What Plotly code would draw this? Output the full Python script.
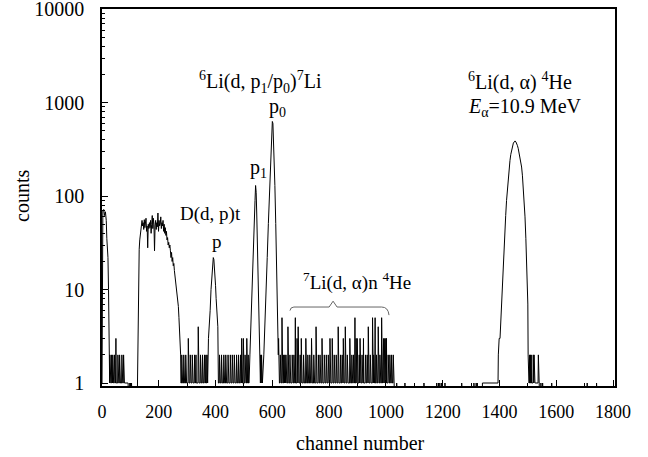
import numpy as np
import plotly.graph_objects as go

# ---------------- data ----------------
# peak profiles: channel / counts
peak0_ch = [0, 1, 3, 6, 9, 12, 15, 17, 19, 21, 23, 25]
peak0_cnt = [1, 60, 70, 72, 62, 68, 55, 35, 30, 22, 10, 1]

bump_ch = [125, 127, 129, 131, 133, 135, 137, 139, 141, 143, 145, 147, 149, 151, 153, 155,
           157, 159, 161, 163, 165, 167, 169, 171, 173, 175, 177, 179, 181, 183, 185, 187,
           189, 191, 193, 195, 197, 199, 201, 203, 205, 207, 209, 211, 213, 215, 217, 219,
           221, 223, 225, 227, 229, 231, 233, 235, 237, 239, 241, 243, 245, 247, 249, 251,
           253, 255, 257, 259, 261, 263, 265, 267, 269, 271, 273, 275, 277, 278]
bump_cnt = [1, 6, 19, 27, 34, 40, 47, 50, 55, 48, 52, 44, 56, 46, 50, 58,
            42, 48, 28, 50, 45, 52, 46, 55, 40, 50, 62, 45, 58, 50, 26, 48,
            55, 44, 52, 47, 66, 42, 55, 48, 50, 60, 45, 52, 48, 55, 42, 50,
            40, 46, 38, 42, 34, 36, 30, 32, 28, 30, 26, 22, 25, 20, 22, 18,
            19, 16, 14, 13, 11, 11, 9, 8, 6.6, 5, 4, 3, 2, 1]

dpt_ch = [372, 375, 378, 381, 384, 387, 390, 392, 394, 396, 398, 400, 402, 404, 406, 408, 410]
dpt_cnt = [1, 3, 4, 6, 10, 14, 19, 22, 21, 18, 15, 11, 8, 6, 4, 4, 1]

p1_ch = [518, 521, 524, 527, 530, 533, 536, 539, 541, 543, 545, 547, 549, 551, 553, 555, 557]
p1_cnt = [1, 2, 4, 10, 20, 34, 60, 90, 130, 110, 66, 35, 19, 9, 5, 3, 1]

p0_ch = [565, 570, 574, 578, 582, 586, 590, 593, 595, 598, 600, 602, 604, 607, 609, 612,
         614, 617, 619, 621]
p0_cnt = [1, 2, 4, 9, 22, 51, 110, 190, 263, 450, 630, 600, 430, 263, 130, 51,
          20, 6, 3, 2]

alpha_ch = [1396, 1399, 1402, 1405, 1408, 1410, 1413, 1416, 1419, 1422, 1425, 1428, 1431,
            1434, 1437, 1440, 1443, 1446, 1449, 1452, 1455, 1458, 1460, 1463, 1466, 1469,
            1472, 1475, 1478, 1481, 1484, 1487, 1490, 1493, 1496, 1498, 1500, 1501]
alpha_cnt = [2, 3, 3, 5, 8, 11, 16, 26, 43, 62, 90, 120, 155,
             195, 240, 280, 310, 345, 370, 380, 390, 380, 370, 350, 325, 295,
             265, 235, 205, 165, 126, 90, 60, 35, 20, 12, 7, 2]

# background noise: regions sitting at 1 count, and spikes above it
baseline_regions = [(25, 92), (278, 372), (410, 518), (557, 565), (622, 1028),
                    (1340, 1396), (1501, 1540)]
spike_ch = [28, 34, 38, 44, 49, 56, 62, 70, 76,
            281, 288, 295, 304, 311, 318, 326, 331, 339, 347, 354, 361, 366, 370,
            414, 421, 429, 436, 444, 452, 459, 466, 474, 481, 488, 492, 498, 504, 510, 515,
            559, 562,
            622, 624, 628, 634, 640, 644, 648, 655, 662, 670, 676, 681, 687, 691, 698, 702,
            710, 718, 725, 732, 738, 746, 754, 762, 768, 775, 783, 790, 797, 803, 811, 818,
            825, 832, 840, 846, 850, 857, 864, 873, 880, 886, 891, 895, 897, 899, 906, 909,
            916, 921, 928, 934, 938, 945, 953, 957, 962, 967, 973, 979, 985, 990, 992, 994,
            996, 998, 1000, 1002, 1008, 1014, 1020, 1026,
            1503, 1506, 1509, 1512, 1519, 1522, 1537]
spike_cnt = [2, 2, 2, 2, 3, 2, 2, 2, 2,
             2, 2, 2, 3, 2, 2, 2, 2, 4, 2, 2, 2, 2, 2,
             2, 2, 2, 2, 2, 2, 2, 2, 2, 2, 2, 3, 3, 2, 3, 2,
             2, 2,
             3, 3, 2, 5, 2, 2, 2, 4, 2, 2, 2, 5, 3, 4, 2, 3,
             2, 3, 2, 2, 3, 2, 4, 2, 2, 3, 2, 2, 2, 3, 3, 2,
             2, 4, 2, 2, 3, 4, 2, 3, 2, 2, 5, 3, 3, 3, 2, 3,
             2, 3, 2, 2, 4, 2, 5, 2, 5, 2, 4, 2, 5, 3, 3, 3,
             3, 3, 3, 3, 2, 2, 2, 2,
             2, 2, 2, 2, 2, 2, 2]
# isolated single counts in otherwise empty channels
single_ch = [98, 104, 1038, 1067, 1134, 1179, 1185, 1190, 1196, 1208, 1267, 1310, 1318,
             1322, 1546, 1552, 1584, 1709, 1742]

x_tick_vals = [0, 200, 400, 600, 800, 1000, 1200, 1400, 1600, 1800]
y_tick_vals = [1, 10, 100, 1000, 10000]
y_tick_text = ["1", "10", "100", "1000", "10000"]

# ---------------- build the spectrum line ----------------
n_ch = 1801
counts = np.zeros(n_ch)
for a, b in baseline_regions:
    counts[a:b + 1] = 1
for c in single_ch:
    counts[c] = 1
for c, v in zip(spike_ch, spike_cnt):
    counts[c] = v

profiles = [(peak0_ch, peak0_cnt), (bump_ch, bump_cnt), (dpt_ch, dpt_cnt),
            (p1_ch, p1_cnt), (p0_ch, p0_cnt), (alpha_ch, alpha_cnt)]
keep = np.ones(n_ch, bool)
for ch, _ in profiles:
    keep[ch[0]:ch[-1] + 1] = False

xs = np.concatenate([np.arange(n_ch)[keep]] + [np.array(ch, float) for ch, _ in profiles])
ys = np.concatenate([counts[keep]] + [np.array(cn, float) for _, cn in profiles])
order = np.argsort(xs, kind="stable")
xs, ys = xs[order], ys[order]
ys_plot = np.where(ys > 0, ys, 0.3)   # empty channels fall below the axis

FONT = "Liberation Serif, Times New Roman, serif"

# plot-area geometry (pixels) used to place the free texts
L, R, T, B = 102, 615, 9, 386


def px(xp):
    return (xp - L) / (R - L)


def py(yp):
    return (B - yp) / (B - T)


fig = go.Figure(go.Scatter(x=xs, y=ys_plot, mode="lines",
                           line=dict(color="black", width=1), hoverinfo="skip"))

fig.update_layout(
    width=648, height=457,
    margin=dict(l=L, r=648 - R, t=T, b=457 - B, autoexpand=False),
    paper_bgcolor="white", plot_bgcolor="white",
    showlegend=False,
    font=dict(family=FONT, size=19, color="black"),
)
fig.update_xaxes(
    range=[0, 1807], tickvals=x_tick_vals, ticks="inside", ticklen=6, tickwidth=1,
    tickcolor="black", showline=True, linecolor="black", linewidth=1.5, mirror=True,
    showgrid=False, zeroline=False, ticklabelstandoff=9, automargin=False,
    ticklabeloverflow="allow",
    tickfont=dict(family=FONT, size=18),
    minor=dict(tickvals=list(range(100, 1800, 200)), ticks="inside", ticklen=3,
               tickcolor="black", tickwidth=1, showgrid=False),
)
fig.update_yaxes(
    type="log", range=[-0.032, 4.003], tickvals=y_tick_vals, ticktext=y_tick_text,
    ticks="inside", ticklen=6, tickwidth=1, tickcolor="black", showline=True,
    linecolor="black", linewidth=1.5, mirror=True, showgrid=False, zeroline=False,
    ticklabelstandoff=12, automargin=False, ticklabeloverflow="allow",
    tickfont=dict(family=FONT, size=20),
    minor=dict(tickvals=[m * 10 ** k for k in range(4) for m in range(2, 10)],
               ticks="inside", ticklen=3, tickcolor="black", tickwidth=1, showgrid=False),
)


def label(xp, yp, text, size=20, angle=0):
    fig.add_annotation(x=px(xp), y=py(yp), xref="paper", yref="paper", text=text,
                       showarrow=False, xanchor="center", yanchor="middle",
                       textangle=angle, font=dict(family=FONT, size=size, color="black"))


label(260, 82, "<sup>6</sup>Li(d, p<sub>1</sub>/p<sub>0</sub>)<sup>7</sup>Li")
label(277, 107, "p<sub>0</sub>")
label(258, 168, "p<sub>1</sub>")
label(210, 214, "D(d, p)t", size=19)
label(217, 241, "p", size=19)
label(357, 281, "<sup>7</sup>Li(d, α)n <sup>4</sup>He", size=19)
label(520, 81, "<sup>6</sup>Li(d, α) <sup>4</sup>He")
label(525, 108, "<i>E</i><sub>α</sub>=10.9 MeV")
label(360, 443, "channel number")
label(22, 196, "counts", angle=-90)

# brace over the 7Li(d,a) continuum
fig.add_shape(type="path", xref="x", yref="paper",
              path="M 662,0.200 Q 664,0.2095 676,0.2095 L 800,0.2095 L 814,0.225 "
                   "L 828,0.2095 L 985,0.2095 Q 1008,0.2095 1011,0.188",
              line=dict(color="#666666", width=1))

fig.write_html("out.html", config={"displayModeBar": False},
               post_script="document.body.style.margin='0';")
